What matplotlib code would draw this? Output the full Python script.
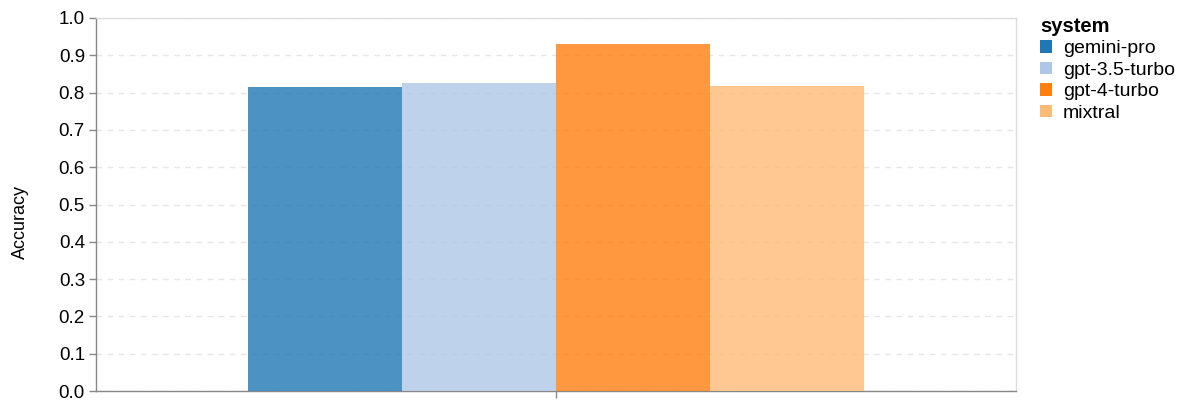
import matplotlib
matplotlib.use("Agg")
import matplotlib.pyplot as plt
from matplotlib.patches import Patch
import numpy as np

plt.rcParams['font.family'] = ['Liberation Sans', 'DejaVu Sans']

systems = ["gemini-pro", "gpt-3.5-turbo", "gpt-4-turbo", "mixtral"]
accuracy = [0.814, 0.826, 0.929, 0.819]
colors = ["#1f77b4", "#aec7e8", "#ff7f0e", "#ffbb78"]
yticks = [0.0, 0.1, 0.2, 0.3, 0.4, 0.5, 0.6, 0.7, 0.8, 0.9, 1.0]

W, H = 1196, 400
fig = plt.figure(figsize=(W/100, H/100), dpi=100)
ax = fig.add_axes([96/W, (H-391)/H, (1016-96)/W, (391-18)/H])

w = 154/920
n = len(systems)
for i, (s, v, c) in enumerate(zip(systems, accuracy, colors)):
    ax.bar((i - (n-1)/2) * w, v, width=w, color=c, alpha=0.8, linewidth=0, zorder=3)

ax.set_xlim(-0.5, 0.5)
ax.set_ylim(0, 1.0)
ax.set_yticks(yticks)
ax.set_yticklabels([f"{t:.1f}" for t in yticks], fontsize=13.5)
ax.set_xticks([0.0])
ax.set_xticklabels([""])
ax.set_ylabel("Accuracy", fontsize=13)
ax.yaxis.set_label_coords(29/W, (H-222)/H, transform=fig.transFigure)

ax.grid(axis='y', color='#e6e6e6', linestyle=(0, (4, 4)), linewidth=1, zorder=0)

for side in ['top', 'right']:
    ax.spines[side].set_color('#dddddd')
    ax.spines[side].set_linewidth(1)
for side in ['left', 'bottom']:
    ax.spines[side].set_color('#888888')
    ax.spines[side].set_linewidth(1)
ax.tick_params(axis='both', colors='#888888', length=5, width=1, labelcolor='black', pad=3)

handles = [Patch(facecolor=c, edgecolor='none', label=s) for s, c in zip(systems, colors)]
leg = fig.legend(handles=handles, title="system", loc='upper left',
                 bbox_to_anchor=(1040/W, (H-17)/H), frameon=False,
                 fontsize=14, title_fontsize=14.5, handlelength=0.62, handleheight=0.62,
                 handletextpad=0.55, labelspacing=0.22, borderaxespad=0, borderpad=0)
leg.get_title().set_fontweight('bold')
leg._legend_box.align = "left"

fig.savefig("out.png", dpi=100)
